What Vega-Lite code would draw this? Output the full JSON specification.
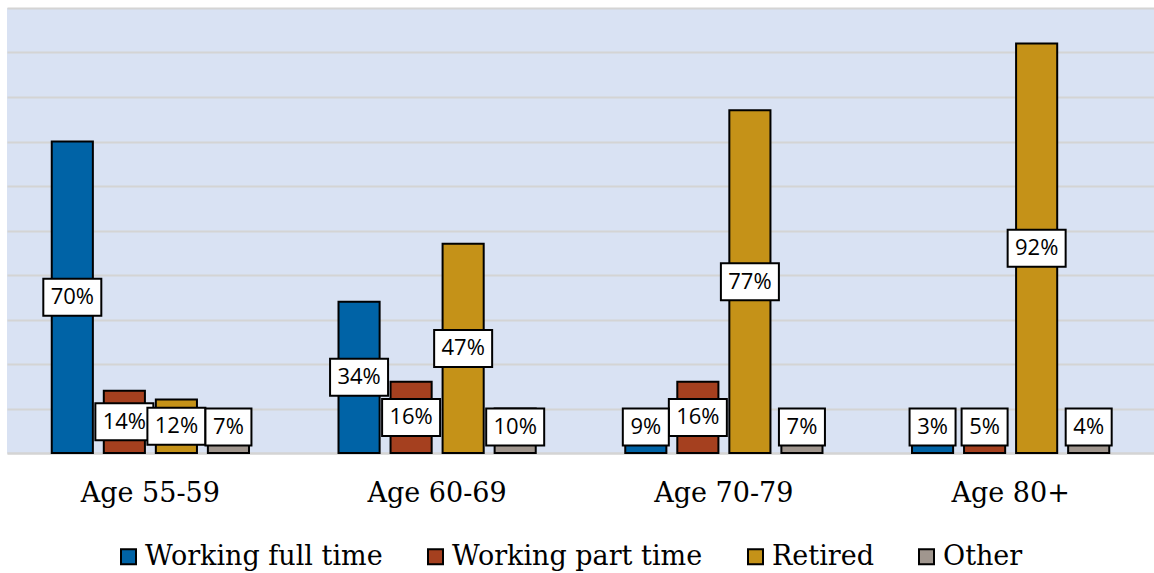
{
  "$schema": "https://vega.github.io/schema/vega-lite/v6.json",
  "width": 1147,
  "height": 445,
  "autosize": {"type": "none"},
  "padding": {"left": 7, "top": 8, "right": 0, "bottom": 120},
  "background": "white",
  "config": {
    "view": {"fill": "#D9E2F3", "stroke": null},
    "axisY": {
      "labels": false,
      "ticks": false,
      "domain": false,
      "gridColor": "#D4D4D4",
      "gridWidth": 2,
      "values": [0, 10, 20, 30, 40, 50, 60, 70, 80, 90, 100]
    }
  },
  "data": {
    "values": [
      {"age": "Age 55-59", "status": "Working full time", "value": 70},
      {"age": "Age 55-59", "status": "Working part time", "value": 14},
      {"age": "Age 55-59", "status": "Retired", "value": 12},
      {"age": "Age 55-59", "status": "Other", "value": 7},
      {"age": "Age 60-69", "status": "Working full time", "value": 34},
      {"age": "Age 60-69", "status": "Working part time", "value": 16},
      {"age": "Age 60-69", "status": "Retired", "value": 47},
      {"age": "Age 60-69", "status": "Other", "value": 10},
      {"age": "Age 70-79", "status": "Working full time", "value": 9},
      {"age": "Age 70-79", "status": "Working part time", "value": 16},
      {"age": "Age 70-79", "status": "Retired", "value": 77},
      {"age": "Age 70-79", "status": "Other", "value": 7},
      {"age": "Age 80+", "status": "Working full time", "value": 3},
      {"age": "Age 80+", "status": "Working part time", "value": 5},
      {"age": "Age 80+", "status": "Retired", "value": 92},
      {"age": "Age 80+", "status": "Other", "value": 4}
    ]
  },
  "transform": [
    {"calculate": "max(datum.value / 2, 5.85)", "as": "ly"},
    {"calculate": "datum.ly - 4.16", "as": "ly0"},
    {"calculate": "datum.ly + 4.16", "as": "ly1"},
    {"calculate": "datum.value + '%'", "as": "label"}
  ],
  "encoding": {
    "x": {
      "field": "age",
      "type": "nominal",
      "sort": ["Age 55-59", "Age 60-69", "Age 70-79", "Age 80+"],
      "scale": {"paddingInner": 0, "paddingOuter": 0},
      "title": null,
      "axis": {
        "labelAngle": 0,
        "labelFont": "DejaVu Serif",
        "labelFontSize": 27,
        "labelColor": "black",
        "labelPadding": 27,
        "ticks": false,
        "domainColor": "#D4D4D4",
        "domainWidth": 2,
        "grid": false
      }
    },
    "xOffset": {
      "field": "status",
      "type": "nominal",
      "sort": ["Working full time", "Working part time", "Retired", "Other"],
      "scale": {"paddingInner": 0.21, "paddingOuter": 0.86}
    }
  },
  "layer": [
    {
      "mark": {"type": "bar", "stroke": "black", "strokeWidth": 2},
      "encoding": {
        "y": {
          "field": "value",
          "type": "quantitative",
          "title": null,
          "scale": {"domain": [0, 100]}
        },
        "color": {
          "field": "status",
          "type": "nominal",
          "sort": ["Working full time", "Working part time", "Retired", "Other"],
          "scale": {
            "domain": ["Working full time", "Working part time", "Retired", "Other"],
            "range": ["#0063A6", "#A5401F", "#C59218", "#A0968E"]
          },
          "legend": {
            "title": null,
            "orient": "none",
            "legendX": 108,
            "legendY": 535,
            "direction": "horizontal",
            "labelFont": "DejaVu Serif",
            "labelFontSize": 27,
            "labelColor": "black",
            "labelLimit": 400,
            "labelOffset": 3,
            "columnPadding": 39,
            "symbolType": "square",
            "symbolSize": 225,
            "symbolStrokeColor": "black",
            "symbolStrokeWidth": 2,
            "symbolOpacity": 1
          }
        }
      }
    },
    {
      "transform": [{"filter": "datum.value >= 10"}],
      "mark": {"type": "bar", "width": 58, "fill": "white", "stroke": "black", "strokeWidth": 2},
      "encoding": {
        "y": {"field": "ly0", "type": "quantitative", "title": null},
        "y2": {"field": "ly1"}
      }
    },
    {
      "transform": [{"filter": "datum.value < 10"}],
      "mark": {"type": "bar", "width": 46, "fill": "white", "stroke": "black", "strokeWidth": 2},
      "encoding": {
        "y": {"field": "ly0", "type": "quantitative", "title": null},
        "y2": {"field": "ly1"}
      }
    },
    {
      "mark": {"type": "text", "font": "Open Sans", "fontSize": 22, "color": "black", "baseline": "middle", "align": "center"},
      "encoding": {
        "y": {"field": "ly", "type": "quantitative", "title": null},
        "text": {"field": "label"}
      }
    }
  ]
}
